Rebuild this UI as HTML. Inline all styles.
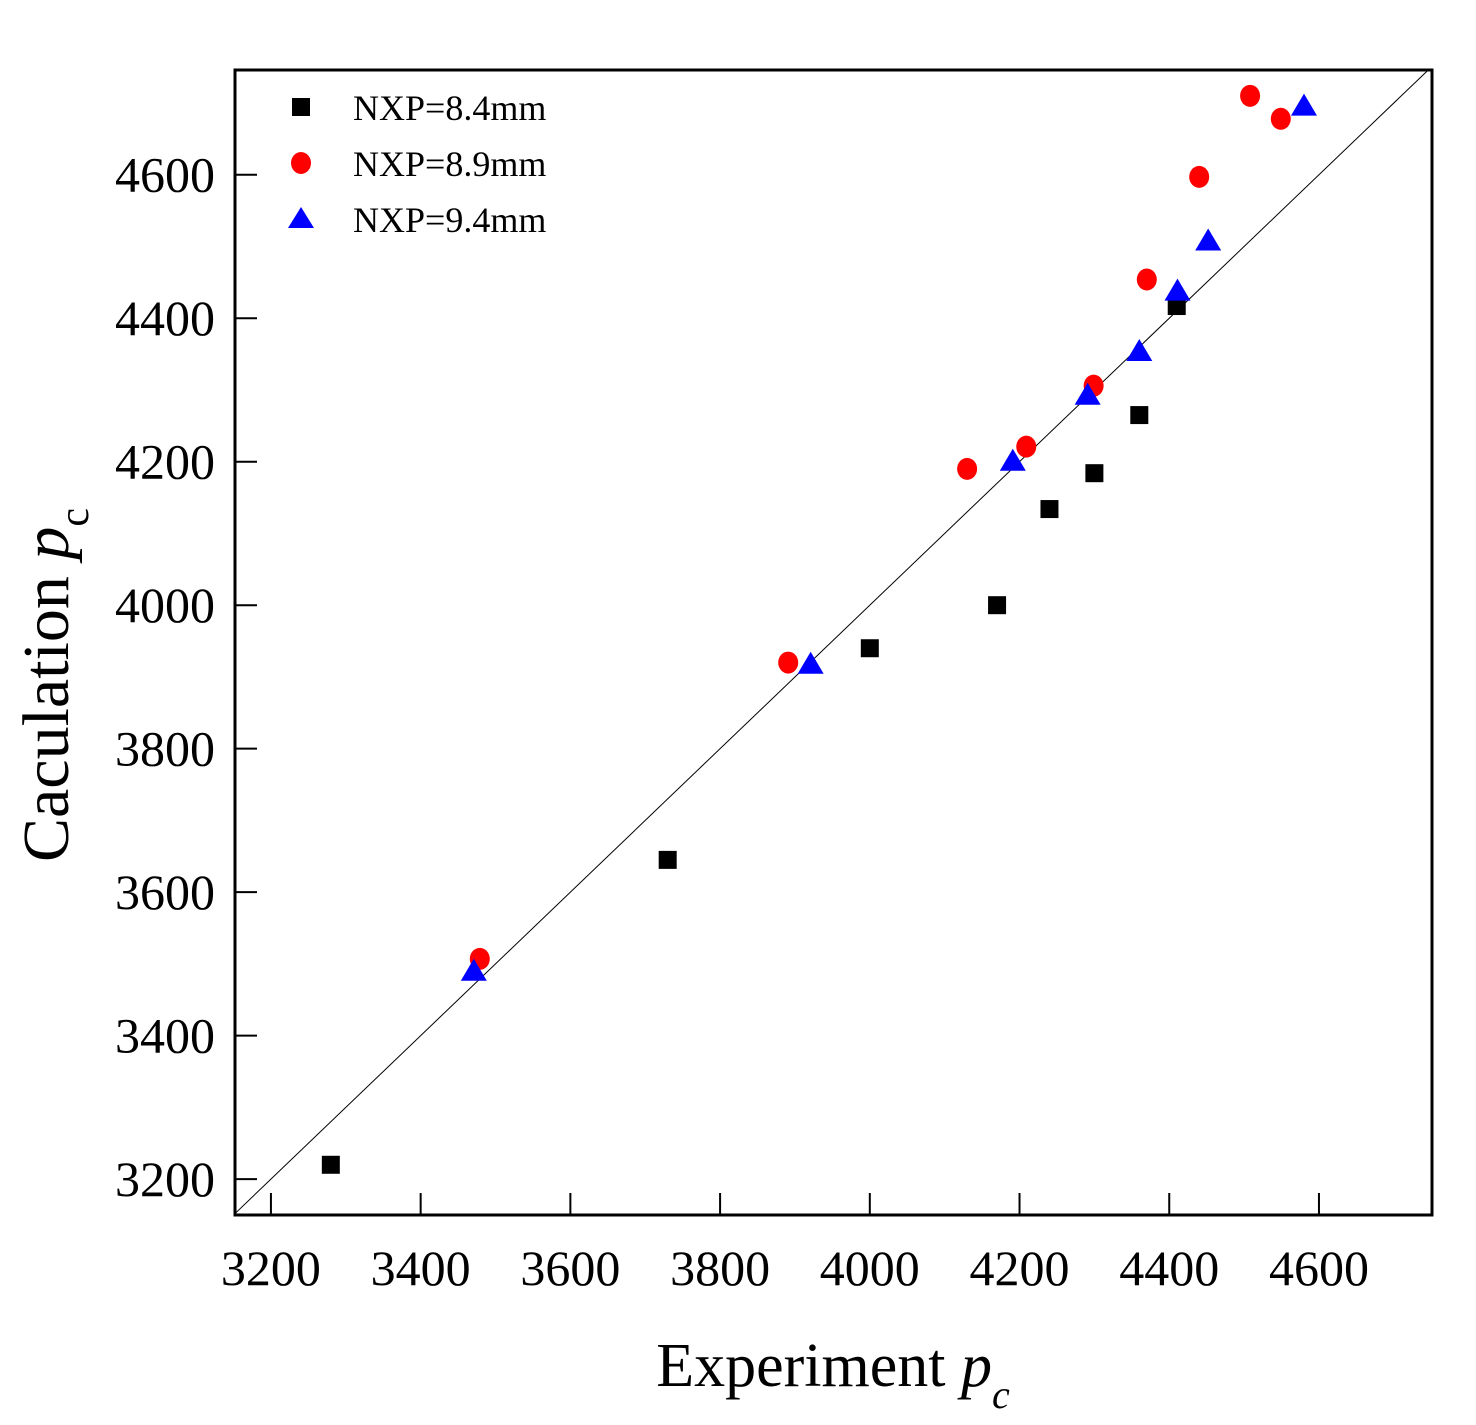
<!DOCTYPE html>
<html><head><meta charset="utf-8"><style>
html,body{margin:0;padding:0;background:#fff;}
svg{display:block;font-family:"Liberation Serif",serif;}
</style></head><body>
<svg id="chart" width="1476" height="1425" viewBox="0 0 1476 1425" xmlns="http://www.w3.org/2000/svg">
<rect x="235" y="70" width="1197" height="1145" fill="none" stroke="#000" stroke-width="3"/>
<g id="marks"></g>
<text x="833" y="1386" font-size="62" text-anchor="middle">Experiment <tspan font-style="italic">p</tspan><tspan font-style="italic" font-size="40" dy="22">c</tspan></text>
<text transform="translate(68,685) rotate(-90)" font-size="66" text-anchor="middle">Caculation <tspan font-style="italic">p</tspan><tspan font-size="42" dy="20">c</tspan></text>
<g>
<rect x="292" y="98" width="18" height="18" fill="#000"/>
<text x="353" y="120" font-size="36">NXP=8.4mm</text>
<ellipse cx="301" cy="163" rx="10" ry="11" fill="#f00"/>
<text x="353" y="176" font-size="36">NXP=8.9mm</text>
<polygon points="301,207 314,228 288,228" fill="#00f"/>
<text x="353" y="232" font-size="36">NXP=9.4mm</text>
</g>
</svg>
<script>
const xTicks=[3200,3400,3600,3800,4000,4200,4400,4600];
const yTicks=[3200,3400,3600,3800,4000,4200,4400,4600];
const xA=[3280,3730,4000,4170,4240,4300,4360,4410];
const yA=[3220,3645,3940,4000,4134,4184,4265,4417];
const xB=[3479,3891,4130,4209,4299,4370,4440,4508,4549];
const yB=[3507,3920,4190,4221,4306,4454,4597,4710,4678];
const xC=[3471,3921,4191,4291,4360,4411,4452,4580];
const yC=[3489,3917,4200,4292,4353,4437,4507,4695];
const X0=3152,X1=4751,Y0=3150,Y1=4746;
const sx=v=>235+(v-X0)/(X1-X0)*1197;
const sy=v=>1215-(v-Y0)/(Y1-Y0)*1145;
const NS="http://www.w3.org/2000/svg";
const g=document.getElementById('marks');
function mk(t,a){const e=document.createElementNS(NS,t);for(const k in a)e.setAttribute(k,a[k]);g.appendChild(e);return e;}
const lo=Math.max(X0,Y0),hi=Math.min(X1,Y1);
let d=mk('line',{x1:sx(lo),y1:sy(lo),x2:sx(hi),y2:sy(hi),stroke:'#000','stroke-width':1});


xTicks.forEach(v=>{
 let t=mk('line',{x1:sx(v),x2:sx(v),y1:1215,y2:1193,stroke:'#000','stroke-width':2});
 
 
 let l=mk('text',{x:sx(v),y:1285,'font-size':50,'text-anchor':'middle'});l.textContent=v;
 
 
});
yTicks.forEach(v=>{
 let t=mk('line',{x1:235,x2:257,y1:sy(v),y2:sy(v),stroke:'#000','stroke-width':2});
 
 
 let l=mk('text',{x:215,y:sy(v)+17,'font-size':50,'text-anchor':'end'});l.textContent=v;
 
 
});
xA.forEach((v,i)=>{
 let e=mk('rect',{x:sx(v)-9,y:sy(yA[i])-9,width:18,height:18,fill:'#000'});
 
 
});
xB.forEach((v,i)=>{
 let e=mk('ellipse',{cx:sx(v),cy:sy(yB[i]),rx:10,ry:11,fill:'#f00'});
 
 
});
xC.forEach((v,i)=>{
 const x=sx(v),y=sy(yC[i]);
 let e=mk('polygon',{points:`${x},${y-13} ${x+13},${y+9} ${x-13},${y+9}`,fill:'#00f'});
 
 
});
</script>
</body></html>
